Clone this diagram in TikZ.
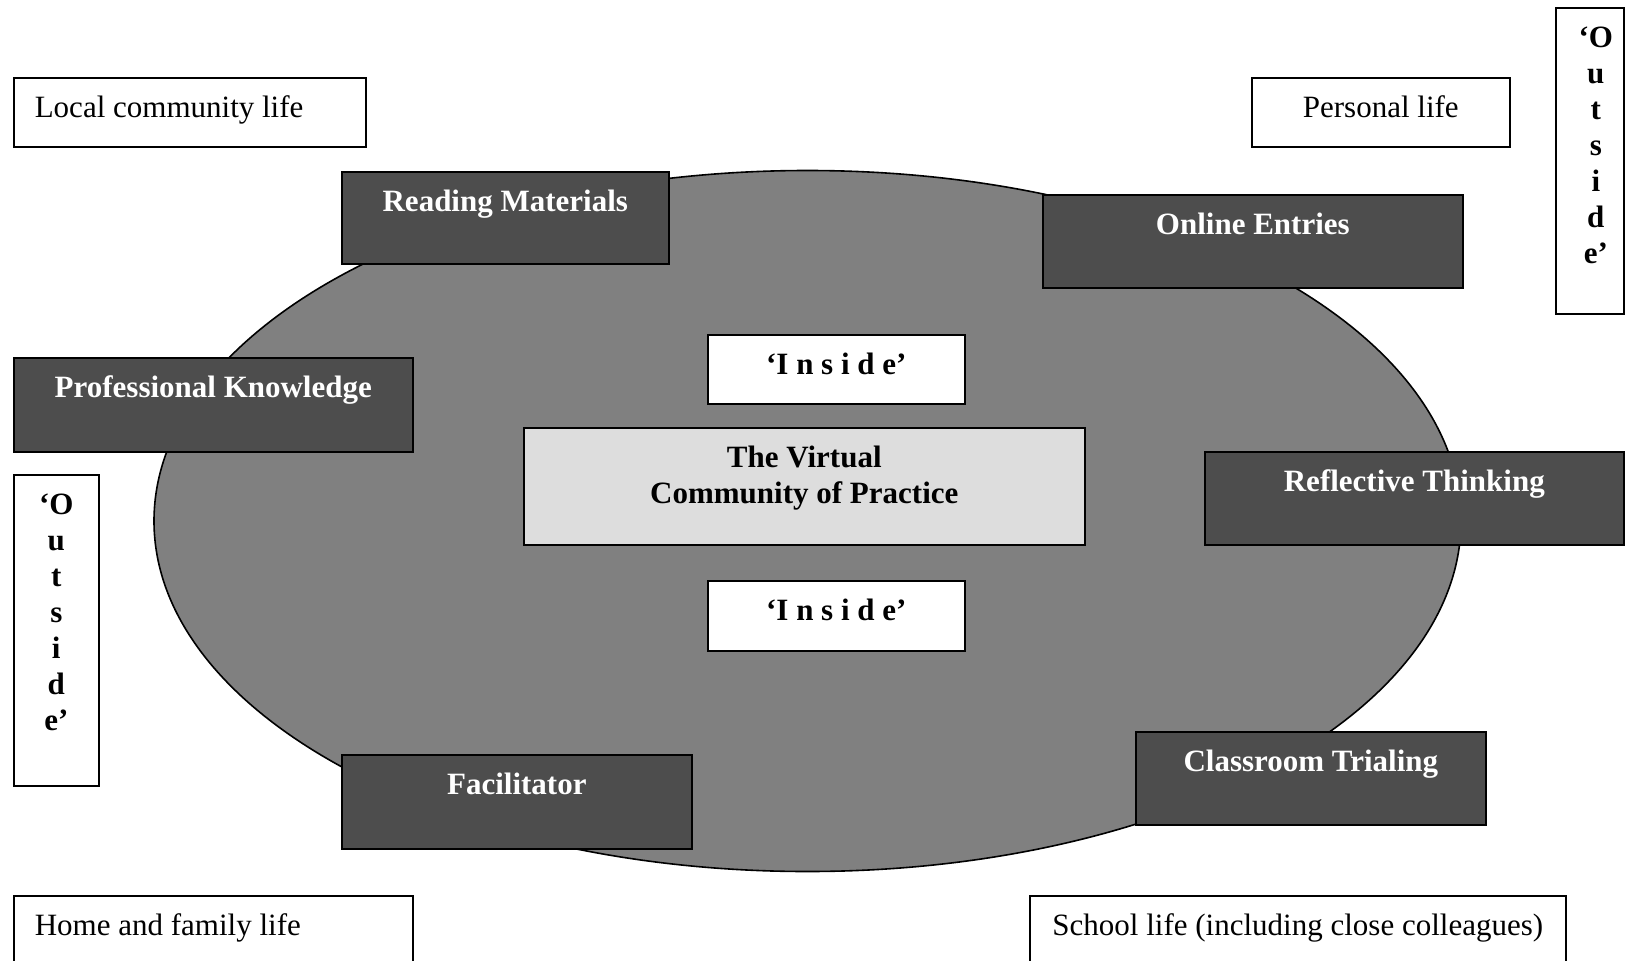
\documentclass[tikz,border=0pt]{standalone}
\usepackage{fontspec}
\setmainfont{Liberation Serif}
\usepackage{tikz}
\definecolor{ringgrey}{RGB}{128,128,128}
\definecolor{boxgrey}{RGB}{77,77,77}
\definecolor{coregrey}{RGB}{221,221,221}
\newcommand{\bigtext}{\fontsize{31}{36}\selectfont}
\tikzset{
	plainbox/.style={draw, line width=1.6pt, fill=white, anchor=north west, inner xsep=0pt, inner ysep=0pt, text height=40pt, font=\bigtext},
	darkbox/.style={plainbox, fill=boxgrey, text=white, font=\bigtext\bfseries},
	insidebox/.style={plainbox, font=\bigtext\bfseries},
	corebox/.style={plainbox, fill=coregrey, font=\bigtext\bfseries}
}

\begin{document}
\begin{tikzpicture}[x=1pt,y=-1pt]
			\useasboundingbox (0,0) rectangle (1625,961);
			\draw[line width=1.6pt, fill=ringgrey] (807.5,521) ellipse [x radius=653.5pt, y radius=350.5pt];
			\node (local) [plainbox, inner xsep=21pt, text depth=29pt] at (13,77) {\makebox[310pt][l]{Local community life}};
			\node (personal) [plainbox, minimum width=258pt, text depth=29pt] at (1251,77) {Personal life};
			\node (outsideR) [insidebox, minimum width=68pt, text depth=266pt] at (1555,7) {\hspace*{12pt}\begin{tabular}[t]{@{}c@{}}‘O\\u\\t\\s\\i\\d\\e’\end{tabular}};
			\node (reading) [darkbox, minimum width=327pt, text depth=52pt] at (341,171) {Reading Materials};
			\node (online) [darkbox, minimum width=420pt, text depth=53pt] at (1042,194) {Online Entries};
			\node (prof) [darkbox, minimum width=399pt, text depth=54pt] at (13,357) {Professional Knowledge};
			\node (outsideL) [insidebox, minimum width=85pt, text depth=271pt] at (13,474) {\begin{tabular}[t]{@{}c@{}}‘O\\u\\t\\s\\i\\d\\e’\end{tabular}};
			\node (reflect) [darkbox, minimum width=419pt, text depth=53pt] at (1204,451) {Reflective Thinking};
			\node (insideT) [insidebox, minimum width=257pt, text depth=29pt] at (707,334) {‘I n s i d e’};
			\node (vcop) [corebox, minimum width=561pt, text depth=77pt] at (523,427) {\begin{tabular}[t]{@{}c@{}}The Virtual\\Community of Practice\end{tabular}};
			\node (insideB) [insidebox, minimum width=257pt, text depth=30pt] at (707,580) {‘I n s i d e’};
			\node (facil) [darkbox, minimum width=350pt, text depth=54pt] at (341,754) {Facilitator};
			\node (trial) [darkbox, minimum width=350pt, text depth=53pt] at (1135,731) {Classroom Trialing};
			\node (home) [plainbox, inner xsep=21pt, text depth=30pt] at (13,895) {\makebox[357pt][l]{Home and family life}};
			\node (school) [plainbox, minimum width=536pt, text depth=30pt] at (1029,895) {School life (including close colleagues)};
		\end{tikzpicture}
\end{document}
